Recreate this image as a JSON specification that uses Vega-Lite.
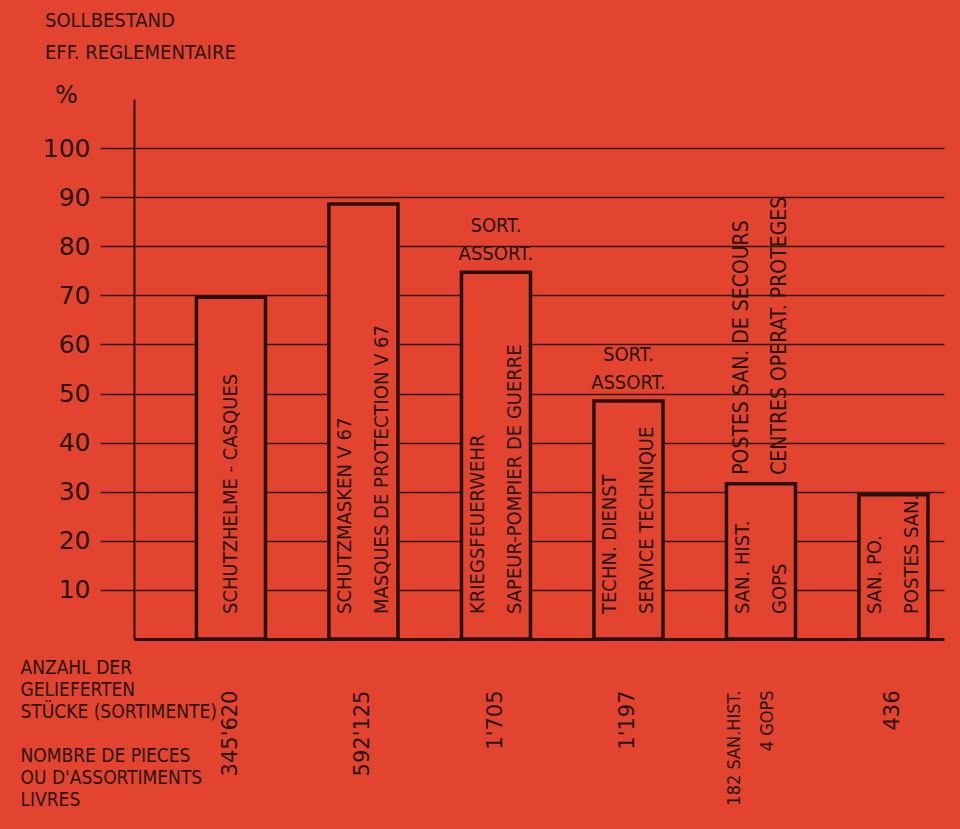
{
  "$schema": "https://vega.github.io/schema/vega-lite/v6.json",
  "width": 810,
  "height": 540,
  "autosize": {"type": "none"},
  "padding": {"left": 134, "top": 99, "right": 16, "bottom": 190},
  "background": "#e2442f",
  "config": {"view": {"stroke": null}, "font": "DejaVu Sans Condensed, DejaVu Sans"},
  "title": {
    "text": "SOLLBESTAND",
    "subtitle": "EFF. REGLEMENTAIRE",
    "anchor": "start",
    "frame": "group",
    "dx": -89,
    "offset": 20,
    "font": "DejaVu Sans Condensed, DejaVu Sans",
    "fontSize": 20,
    "fontWeight": "normal",
    "color": "#2a1410",
    "subtitleFont": "DejaVu Sans Condensed, DejaVu Sans",
    "subtitleFontSize": 20,
    "subtitleColor": "#2a1410",
    "subtitlePadding": 12
  },
  "data": {
    "values": [
      {"count": "345'620", "pct": 69.6, "inside": "SCHUTZHELME - CASQUES", "above": "", "aboveV": ""},
      {"count": "592'125", "pct": 88.6, "inside": "SCHUTZMASKEN V 67|MASQUES DE PROTECTION  V 67", "above": "", "aboveV": ""},
      {"count": "1'705", "pct": 74.7, "inside": "KRIEGSFEUERWEHR|SAPEUR-POMPIER DE GUERRE", "above": "SORT.|ASSORT.", "aboveV": ""},
      {"count": "1'197", "pct": 48.5, "inside": "TECHN. DIENST|SERVICE TECHNIQUE", "above": "SORT.|ASSORT.", "aboveV": ""},
      {"count": "182 SAN.HIST.|4 GOPS", "pct": 31.6, "inside": "SAN. HIST.|GOPS", "above": "", "aboveV": "POSTES SAN. DE SECOURS|CENTRES OPERAT. PROTEGES"},
      {"count": "436", "pct": 29.4, "inside": "SAN. PO.|POSTES SAN.", "above": "", "aboveV": ""}
    ]
  },
  "encoding": {
    "x": {
      "field": "count",
      "type": "nominal",
      "sort": null,
      "scale": {"paddingInner": 0.479, "paddingOuter": 0.296, "align": 0.796},
      "axis": {
        "domain": true,
        "domainColor": "#2a1410",
        "domainWidth": 3,
        "ticks": false,
        "tickSize": 0,
        "labelAngle": 270,
        "labelAlign": "right",
        "labelBaseline": "middle",
        "labelPadding": 51,
        "labelOffset": {"condition": {"test": "indexof(datum.value, '|') >= 0", "value": -26}, "value": 0},
        "labelFont": {"condition": {"test": "indexof(datum.value, '|') >= 0", "value": "DejaVu Sans Condensed"}, "value": "DejaVu Sans"},
        "labelFontSize": {"condition": {"test": "indexof(datum.value, '|') >= 0", "value": 18}, "value": 21},
        "labelColor": "#2a1410",
        "labelLineHeight": 33,
        "labelExpr": "split(datum.label, '|')",
        "title": ["ANZAHL DER", "GELIEFERTEN", "STÜCKE (SORTIMENTE)", "\u200b", "NOMBRE DE PIECES", "OU D'ASSORTIMENTS", "LIVRES"],
        "titleFont": "DejaVu Sans Condensed, DejaVu Sans",
        "titleFontSize": 19,
        "titleFontWeight": "normal",
        "titleColor": "#2a1410",
        "titleLineHeight": 22,
        "titleAlign": "left",
        "titleBaseline": "alphabetic",
        "titleX": -114,
        "titleY": 34
      }
    }
  },
  "layer": [
    {
      "mark": {"type": "bar", "fill": "#e2442f", "stroke": "#2a0e08", "strokeWidth": 3.5},
      "encoding": {
        "y": {
          "field": "pct",
          "type": "quantitative",
          "scale": {"domain": [0, 110], "nice": false},
          "axis": {
            "values": [10, 20, 30, 40, 50, 60, 70, 80, 90, 100],
            "grid": true,
            "gridColor": "#3a1510",
            "gridWidth": 1.3,
            "tickSize": 34,
            "tickColor": "#3a1510",
            "tickWidth": 1.3,
            "domainColor": "#2a1410",
            "domainWidth": 2,
            "labelFont": "DejaVu Sans",
            "labelFontSize": 25,
            "labelColor": "#2a1410",
            "labelPadding": 10,
            "title": "%",
            "titleAngle": 0,
            "titleX": -68,
            "titleY": 3,
            "titleAlign": "center",
            "titleBaseline": "alphabetic",
            "titleFont": "DejaVu Sans",
            "titleFontSize": 24,
            "titleFontWeight": "normal",
            "titleColor": "#2a1410"
          }
        }
      }
    },
    {
      "mark": {"type": "text", "angle": 270, "align": "left", "baseline": "middle", "dx": 25, "dy": {"expr": "indexof(datum.inside, '|') >= 0 ? -18 : 0"}, "lineBreak": "|", "lineHeight": 37, "fontSize": 20, "font": "DejaVu Sans Condensed, DejaVu Sans", "color": "#2a1410"},
      "encoding": {
        "y": {"datum": 0, "type": "quantitative"},
        "text": {"field": "inside"}
      }
    },
    {
      "transform": [{"filter": "datum.above != ''"}],
      "mark": {"type": "text", "align": "center", "baseline": "alphabetic", "dy": -40, "lineBreak": "|", "lineHeight": 28, "fontSize": 20, "font": "DejaVu Sans Condensed, DejaVu Sans", "color": "#2a1410"},
      "encoding": {
        "y": {"field": "pct", "type": "quantitative"},
        "text": {"field": "above"}
      }
    },
    {
      "transform": [{"filter": "datum.aboveV != ''"}],
      "mark": {"type": "text", "angle": 270, "align": "left", "baseline": "middle", "dx": 9, "dy": -19, "lineBreak": "|", "lineHeight": 38, "fontSize": 21, "font": "DejaVu Sans Condensed, DejaVu Sans", "color": "#2a1410"},
      "encoding": {
        "y": {"field": "pct", "type": "quantitative"},
        "text": {"field": "aboveV"}
      }
    }
  ]
}
